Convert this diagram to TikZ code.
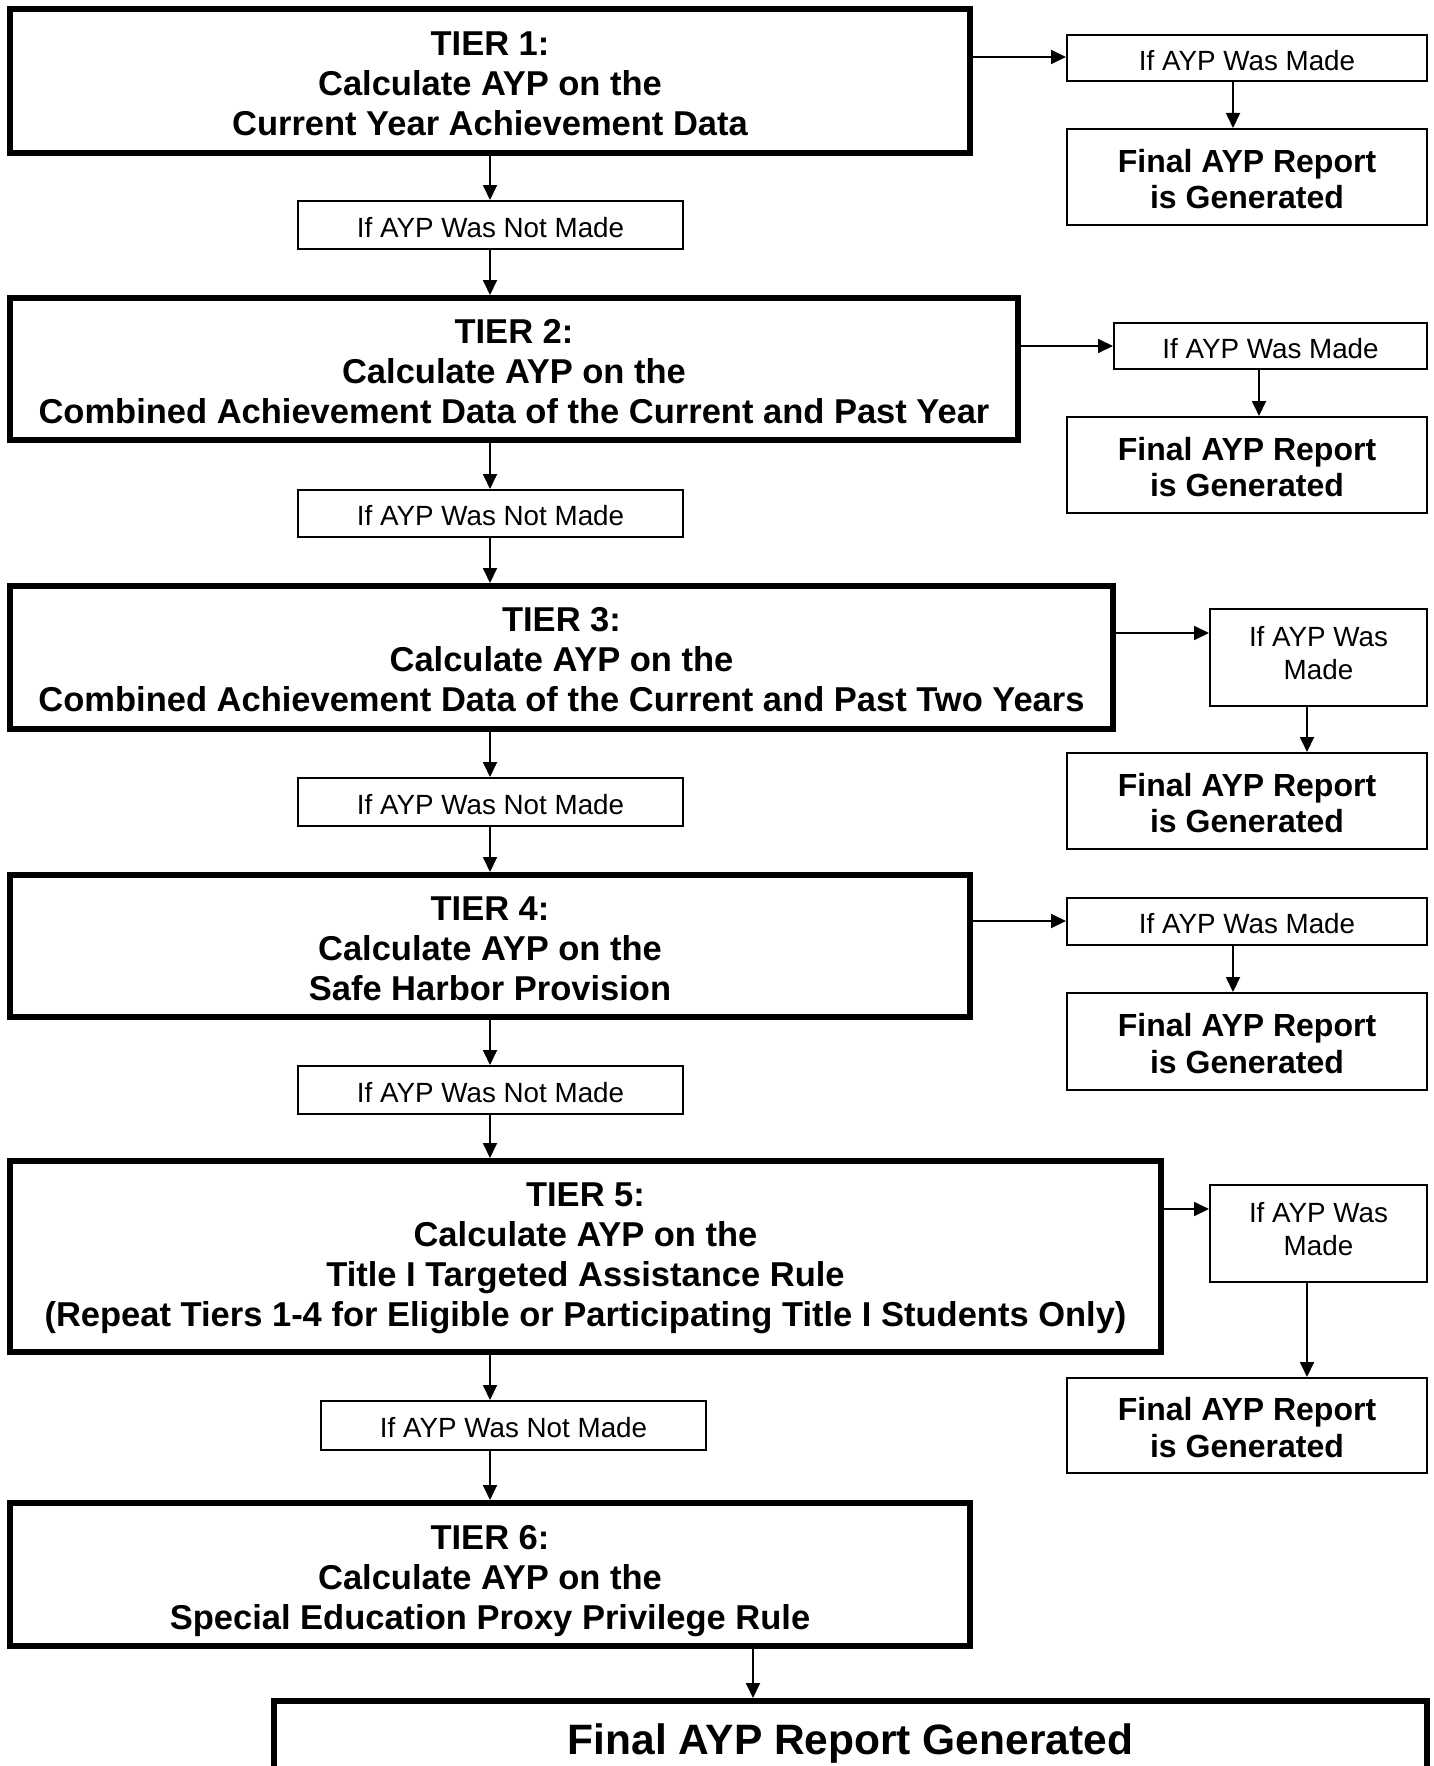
\documentclass[tikz,border=0pt]{standalone}
\usepackage{fontspec}
\setmainfont{Liberation Sans}
\usetikzlibrary{arrows.meta}
\newcommand\zstrut{\vrule width 0pt height \dimexpr 0.8\baselineskip+5pt\relax depth 0.2\baselineskip}
\begin{document}
\begin{tikzpicture}[x=1pt,y=-1pt,
  boxtext/.style={rectangle, inner sep=0pt, align=center,
    execute at end node=\zstrut},
  tier/.style={boxtext, draw, line width=6pt,
    font=\fontsize{34.5pt}{40pt}\selectfont\bfseries},
  cond/.style={boxtext, draw, line width=2pt,
    font=\fontsize{27.8pt}{32.5pt}\selectfont},
  report/.style={boxtext, draw, line width=2pt,
    font=\fontsize{32pt}{36.5pt}\selectfont\bfseries},
  arr/.style={line width=1.8pt, -{Triangle[length=15pt,width=14pt]}}]
\useasboundingbox (0,0) rectangle (1434,1766);
\clip (0,0) rectangle (1434,1766);

% Tier 1
\node[tier, minimum width=960pt, minimum height=144pt] (t1) at (490,81)
  {\zstrut TIER 1:\\Calculate AYP on the\\Current Year Achievement Data};
\node[cond, minimum width=360pt, minimum height=46pt] (m1) at (1247,58) {\zstrut If AYP Was Made};
\node[report, minimum width=360pt, minimum height=96pt] (f1) at (1247,177) {\zstrut Final AYP Report\\is Generated};
\node[cond, minimum width=385pt, minimum height=48pt] (n1) at (490.5,225) {\zstrut If AYP Was Not Made};

% Tier 2
\node[tier, minimum width=1008pt, minimum height=142pt] (t2) at (514,369)
  {\zstrut TIER 2:\\Calculate AYP on the\\Combined Achievement Data of the Current and Past Year};
\node[cond, minimum width=313pt, minimum height=46pt] (m2) at (1270.5,346) {\zstrut If AYP Was Made};
\node[report, minimum width=360pt, minimum height=96pt] (f2) at (1247,465) {\zstrut Final AYP Report\\is Generated};
\node[cond, minimum width=385pt, minimum height=47pt] (n2) at (490.5,513.5) {\zstrut If AYP Was Not Made};

% Tier 3
\node[tier, minimum width=1103pt, minimum height=143pt] (t3) at (561.5,657.5)
  {\zstrut TIER 3:\\Calculate AYP on the\\Combined Achievement Data of the Current and Past Two Years\vrule width 0pt depth 10pt};
\node[cond, minimum width=217pt, minimum height=97pt] (m3) at (1318.5,657.5) {\zstrut If AYP Was\\Made\vrule width 0pt depth 20.5pt};
\node[report, minimum width=360pt, minimum height=96pt] (f3) at (1247,801) {\zstrut Final AYP Report\\is Generated};
\node[cond, minimum width=385pt, minimum height=48pt] (n3) at (490.5,802) {\zstrut If AYP Was Not Made};

% Tier 4
\node[tier, minimum width=960pt, minimum height=142pt] (t4) at (490,946)
  {\zstrut TIER 4:\\Calculate AYP on the\\Safe Harbor Provision};
\node[cond, minimum width=360pt, minimum height=47pt] (m4) at (1247,921.5) {\zstrut If AYP Was Made};
\node[report, minimum width=360pt, minimum height=97pt] (f4) at (1247,1041.5) {\zstrut Final AYP Report\\is Generated};
\node[cond, minimum width=385pt, minimum height=48pt] (n4) at (490.5,1090) {\zstrut If AYP Was Not Made};

% Tier 5
\node[tier, minimum width=1151pt, minimum height=191pt] (t5) at (585.5,1256.5)
  {\zstrut TIER 5:\\Calculate AYP on the\\Title I Targeted Assistance Rule\\(Repeat Tiers 1-4 for Eligible or Participating Title I Students Only)\vrule width 0pt depth 17pt};
\node[cond, minimum width=217pt, minimum height=97pt] (m5) at (1318.5,1233.5) {\zstrut If AYP Was\\Made\vrule width 0pt depth 20.5pt};
\node[report, minimum width=360pt, minimum height=95pt] (f5) at (1247,1425.5) {\zstrut Final AYP Report\\is Generated};
\node[cond, minimum width=385pt, minimum height=49pt] (n5) at (513.5,1425.5) {\zstrut If AYP Was Not Made};

% Tier 6
\node[tier, minimum width=960pt, minimum height=143pt] (t6) at (490,1574.5)
  {\zstrut TIER 6:\\Calculate AYP on the\\Special Education Proxy Privilege Rule};
\node[tier, minimum width=1153pt, minimum height=74pt, font=\fontsize{42.5pt}{48pt}\selectfont\bfseries] (fin) at (850.5,1738)
  {\zstrut Final AYP Report Generated};

% vertical spine
\coordinate (sx) at (490,0);
\draw[arr] (t1.south -| sx) -- (n1.north -| sx);
\draw[arr] (n1.south -| sx) -- (t2.north -| sx);
\draw[arr] (t2.south -| sx) -- (n2.north -| sx);
\draw[arr] (n2.south -| sx) -- (t3.north -| sx);
\draw[arr] (t3.south -| sx) -- (n3.north -| sx);
\draw[arr] (n3.south -| sx) -- (t4.north -| sx);
\draw[arr] (t4.south -| sx) -- (n4.north -| sx);
\draw[arr] (n4.south -| sx) -- (t5.north -| sx);
\draw[arr] (t5.south -| sx) -- (n5.north -| sx);
\draw[arr] (n5.south -| sx) -- (t6.north -| sx);
\coordinate (fx) at (753,0);
\draw[arr] (t6.south -| fx) -- (fin.north -| fx);

% side branches
\draw[arr] (t1.east |- 0,57) -- (m1.west |- 0,57);
\draw[arr] (t2.east |- m2.west) -- (m2.west);
\draw[arr] (t3.east |- 0,633) -- (m3.west |- 0,633);
\draw[arr] (t4.east |- 0,921) -- (m4.west |- 0,921);
\draw[arr] (t5.east |- 0,1209) -- (m5.west |- 0,1209);

\coordinate (ax) at (1233,0);
\coordinate (bx) at (1259,0);
\coordinate (cx) at (1307,0);
\draw[arr] (m1.south -| ax) -- (f1.north -| ax);
\draw[arr] (m2.south -| bx) -- (f2.north -| bx);
\draw[arr] (m3.south -| cx) -- (f3.north -| cx);
\draw[arr] (m4.south -| ax) -- (f4.north -| ax);
\draw[arr] (m5.south -| cx) -- (f5.north -| cx);
\end{tikzpicture}
\end{document}
